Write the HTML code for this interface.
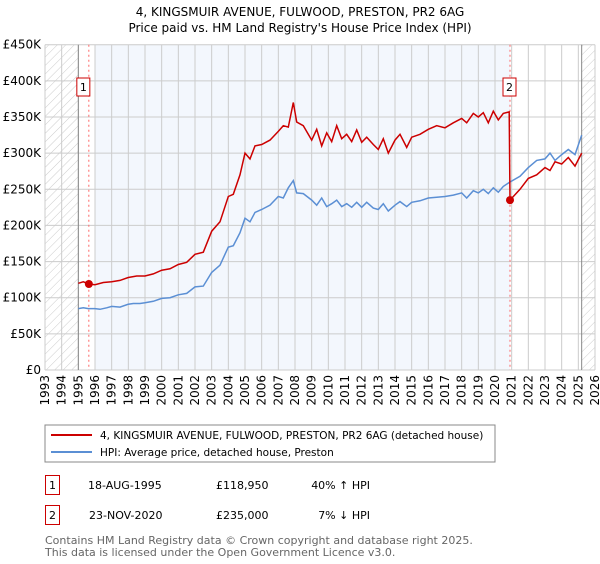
<!DOCTYPE html>
<html><head><meta charset="utf-8"><style>
body{margin:0;background:#fff;font-family:"DejaVu Sans","Liberation Sans",sans-serif;}
svg text{font-family:"DejaVu Sans","Liberation Sans",sans-serif;}
</style></head><body>
<svg id="c" width="600" height="560" xmlns="http://www.w3.org/2000/svg">
<defs><pattern id="h" width="6" height="6" patternUnits="userSpaceOnUse" patternTransform="rotate(45)"><line x1="0" y1="0" x2="0" y2="6" stroke="#ccc" stroke-width="1"/></pattern></defs>
<text x="300" y="16" text-anchor="middle" font-size="12">4, KINGSMUIR AVENUE, FULWOOD, PRESTON, PR2 6AG</text>
<text x="300" y="32" text-anchor="middle" font-size="12">Price paid vs. HM Land Registry's House Price Index (HPI)</text>
<g id="plot"></g>
<rect x="45" y="425" width="450" height="37" fill="#fff" stroke="#888"/>
<line x1="51" y1="435" x2="92" y2="435" stroke="#cc0000" stroke-width="2"/>
<text x="100" y="439" font-size="10.5">4, KINGSMUIR AVENUE, FULWOOD, PRESTON, PR2 6AG (detached house)</text>
<line x1="51" y1="452" x2="92" y2="452" stroke="#5b8fd4" stroke-width="2"/>
<text x="100" y="456" font-size="10.5">HPI: Average price, detached house, Preston</text>
<rect x="45.5" y="475.5" width="14" height="19" fill="none" stroke="#cc0000"/>
<text x="52.5" y="489" text-anchor="middle" font-size="11">1</text>
<text x="88" y="489" font-size="11">18-AUG-1995</text>
<text x="216" y="489" font-size="11">£118,950</text>
<text x="370" y="489" text-anchor="end" font-size="11">40% ↑ HPI</text>
<rect x="45.5" y="505.5" width="14" height="19" fill="none" stroke="#cc0000"/>
<text x="52.5" y="519" text-anchor="middle" font-size="11">2</text>
<text x="89" y="519" font-size="11">23-NOV-2020</text>
<text x="216" y="519" font-size="11">£235,000</text>
<text x="370" y="519" text-anchor="end" font-size="11">7% ↓ HPI</text>
<text x="45" y="544" font-size="11" fill="#666">Contains HM Land Registry data © Crown copyright and database right 2025.</text>
<text x="45" y="556" font-size="11" fill="#666">This data is licensed under the Open Government Licence v3.0.</text>
</svg>
<script>
const yTicks=[0,50,100,150,200,250,300,350,400,450];
const yTickLabels=["£0","£50K","£100K","£150K","£200K","£250K","£300K","£350K","£400K","£450K"];
const xYears=[1993,1994,1995,1996,1997,1998,1999,2000,2001,2002,2003,2004,2005,2006,2007,2008,2009,2010,2011,2012,2013,2014,2015,2016,2017,2018,2019,2020,2021,2022,2023,2024,2025,2026];
const hpiDates=[1995.0,1995.3,1995.6,1996,1996.3,1996.7,1997,1997.5,1998,1998.3,1998.7,1999,1999.5,2000,2000.5,2001,2001.5,2002,2002.5,2003,2003.5,2004,2004.3,2004.7,2005,2005.3,2005.6,2006,2006.5,2007,2007.3,2007.6,2007.9,2008.1,2008.5,2009,2009.3,2009.6,2009.9,2010.2,2010.5,2010.8,2011.1,2011.4,2011.7,2012,2012.3,2012.7,2013,2013.3,2013.6,2014,2014.3,2014.7,2015,2015.5,2016,2016.5,2017,2017.5,2018,2018.3,2018.7,2019,2019.3,2019.6,2019.9,2020.2,2020.5,2020.9,2021.5,2022,2022.5,2023,2023.3,2023.6,2024,2024.4,2024.8,2025.2];
const hpiValues=[85,86,85,85,84,86,88,87,91,92,92,93,95,99,100,104,106,115,116,135,145,170,172,190,210,205,218,222,228,240,238,252,262,245,244,235,228,238,226,230,235,226,230,225,232,225,232,224,222,230,220,228,233,226,232,234,238,239,240,242,245,238,248,245,250,244,252,246,254,260,268,280,290,292,300,290,298,305,298,325];
const saleDates=[1995.63,2020.9];
const saleValues=[118.95,235];
const propDates=[1995.0,1995.3,1995.63,1996,1996.5,1997,1997.5,1998,1998.5,1999,1999.5,2000,2000.5,2001,2001.5,2002,2002.5,2003,2003.5,2004,2004.3,2004.7,2005,2005.3,2005.6,2006,2006.5,2007,2007.3,2007.6,2007.9,2008.1,2008.5,2009,2009.3,2009.6,2009.9,2010.2,2010.5,2010.8,2011.1,2011.4,2011.7,2012,2012.3,2012.7,2013,2013.3,2013.6,2014,2014.3,2014.7,2015,2015.5,2016,2016.5,2017,2017.5,2018,2018.3,2018.7,2019,2019.3,2019.6,2019.9,2020.2,2020.5,2020.85,2020.9,2021.5,2022,2022.5,2023,2023.3,2023.6,2024,2024.4,2024.8,2025.2];
const propValues=[120,122,119,118,121,122,124,128,130,130,133,138,140,146,149,160,163,192,205,240,243,270,300,292,310,312,318,330,338,336,370,343,338,318,333,310,328,316,338,320,326,316,332,315,322,312,305,320,300,318,326,308,322,326,333,338,335,342,348,342,355,350,356,342,358,346,355,357,235,250,265,270,280,276,288,285,294,282,300];
const NS='http://www.w3.org/2000/svg',L=45,R=595,T=44.7,B=370;
const X=y=>L+(y-1993)/(2026-1993)*(R-L);
const Y=v=>B-v/450*(B-T);
const g=document.getElementById('plot');
function mk(t,a){const e=document.createElementNS(NS,t);for(const k in a)e.setAttribute(k,a[k]);g.appendChild(e);return e;}
let e;
e=mk('rect',{x:X(1996),y:T,width:X(saleDates[1])-X(1996),height:B-T,fill:'#eef3fc',opacity:0.7});


e=mk('rect',{x:L,y:T,width:X(1995)-L,height:B-T,fill:'url(#h)'});


e=mk('rect',{x:X(2025.2),y:T,width:R-X(2025.2),height:B-T,fill:'url(#h)'});


yTicks.forEach((v,i)=>{
 e=mk('line',{x1:L,x2:R,y1:Y(v),y2:Y(v),stroke:'#ccc'});
 
 
 e=mk('text',{x:L-4,y:Y(v)+4,'text-anchor':'end','font-size':12});e.textContent=yTickLabels[i];
 
 
});
xYears.forEach(yr=>{
 e=mk('line',{x1:X(yr),x2:X(yr),y1:T,y2:B,stroke:'#ccc'});
 
 
 const tx=X(yr)+4,ty=B+5;
 e=mk('text',{x:tx,y:ty,'text-anchor':'end','font-size':12,transform:`rotate(-90 ${tx} ${ty})`});e.textContent=yr;
 
 
});
e=mk('line',{x1:X(1995),x2:X(1995),y1:T,y2:B,stroke:'#888'});


e=mk('line',{x1:X(2025.2),x2:X(2025.2),y1:T,y2:B,stroke:'#888'});


saleDates.forEach((d,i)=>{
 e=mk('line',{x1:X(d),x2:X(d),y1:T,y2:B,stroke:'#ff6666','stroke-dasharray':'2,3'});
 
 
});
const pts=(ds,vs)=>ds.map((d,i)=>X(d).toFixed(1)+','+Y(vs[i]).toFixed(1)).join(' ');
e=mk('polyline',{points:pts(hpiDates,hpiValues),fill:'none',stroke:'#5b8fd4','stroke-width':1.5});


e=mk('polyline',{points:pts(propDates,propValues),fill:'none',stroke:'#cc0000','stroke-width':1.5});


saleDates.forEach((d,i)=>{
 e=mk('circle',{cx:X(d),cy:Y(saleValues[i]),r:4,fill:'#cc0000'});
 
 
 const bx=X(d)-(i==0?12:7);
 e=mk('rect',{x:bx,y:78,width:13,height:18,fill:'#fff',stroke:'#cc0000'});
 
 
 e=mk('text',{x:bx+6.5,y:91,'text-anchor':'middle','font-size':11});e.textContent=String(i+1);
 
 
});
</script>
</body></html>
